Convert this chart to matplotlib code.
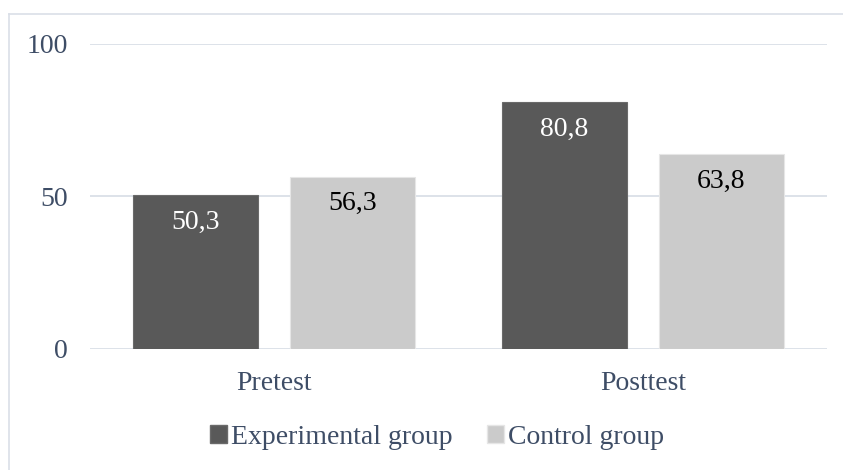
import matplotlib
matplotlib.use("Agg")
import matplotlib.pyplot as plt
from matplotlib.lines import Line2D
from matplotlib.patches import Patch
import numpy as np

categories = ["Pretest", "Posttest"]
series_names = ["Experimental group", "Control group"]
experimental = [50.3, 80.8]
control = [56.3, 63.8]
yticks = [0, 50, 100]

plt.rcParams['font.family'] = ['Liberation Serif', 'DejaVu Serif']
text_color = '#3e4d66'
grid_color = '#dadfe7'
dark = '#595959'
light = '#cbcbcb'
fs = 20

fig = plt.figure(figsize=(8.43, 4.70), dpi=100)
ax = fig.add_axes([90/843, 121.5/470, 737/843, 305/470])

x = np.arange(len(categories))
bw = 0.339
off = 0.213
b1 = ax.bar(x - off, experimental, bw, color=dark, edgecolor='#6a6a6a', linewidth=0.8, zorder=3)
b2 = ax.bar(x + off, control, bw, color=light, edgecolor='#e6e6e6', linewidth=0.8, zorder=3)

def fmt(v):
    return f"{v:.1f}".replace('.', ',')

for rects, vals, col in [(b1, experimental, 'white'), (b2, control, 'black')]:
    for r, v in zip(rects, vals):
        ax.annotate(fmt(v), (r.get_x() + r.get_width()/2, v), xytext=(0, -19.5),
                    textcoords='offset points', ha='center', va='center',
                    fontsize=fs, color=col, zorder=4)

ax.set_xlim(-0.5, 1.5)
ax.set_ylim(0, 100)
ax.set_yticks(yticks)
ax.set_yticklabels([str(t) for t in yticks])
ax.set_xticks(x)
ax.set_xticklabels(categories)
ax.tick_params(axis='y', length=0, pad=16, labelsize=fs, labelcolor=text_color)
ax.tick_params(axis='x', length=0, pad=16, labelsize=fs, labelcolor=text_color)
for s in ax.spines.values():
    s.set_visible(False)
ax.yaxis.grid(True, color=grid_color, linewidth=1.3, zorder=0)
ax.set_axisbelow(True)

handles = [Patch(facecolor=dark, edgecolor='#6a6a6a'), Patch(facecolor=light, edgecolor='#e6e6e6')]
fig.legend(handles, series_names, loc='center', bbox_to_anchor=(437/843, 1 - 437/470),
           ncol=2, frameon=False, fontsize=fs, handlelength=0.6, handleheight=0.6,
           handletextpad=0.15, columnspacing=1.25, labelcolor=text_color)

# outer chart border (top and left visible)
fig.add_artist(Line2D([9/843, 1], [1 - 14/470, 1 - 14/470], color=grid_color, linewidth=1.2, transform=fig.transFigure))
fig.add_artist(Line2D([9/843, 9/843], [0, 1 - 14/470], color=grid_color, linewidth=1.2, transform=fig.transFigure))

fig.savefig("out.png", dpi=100)
